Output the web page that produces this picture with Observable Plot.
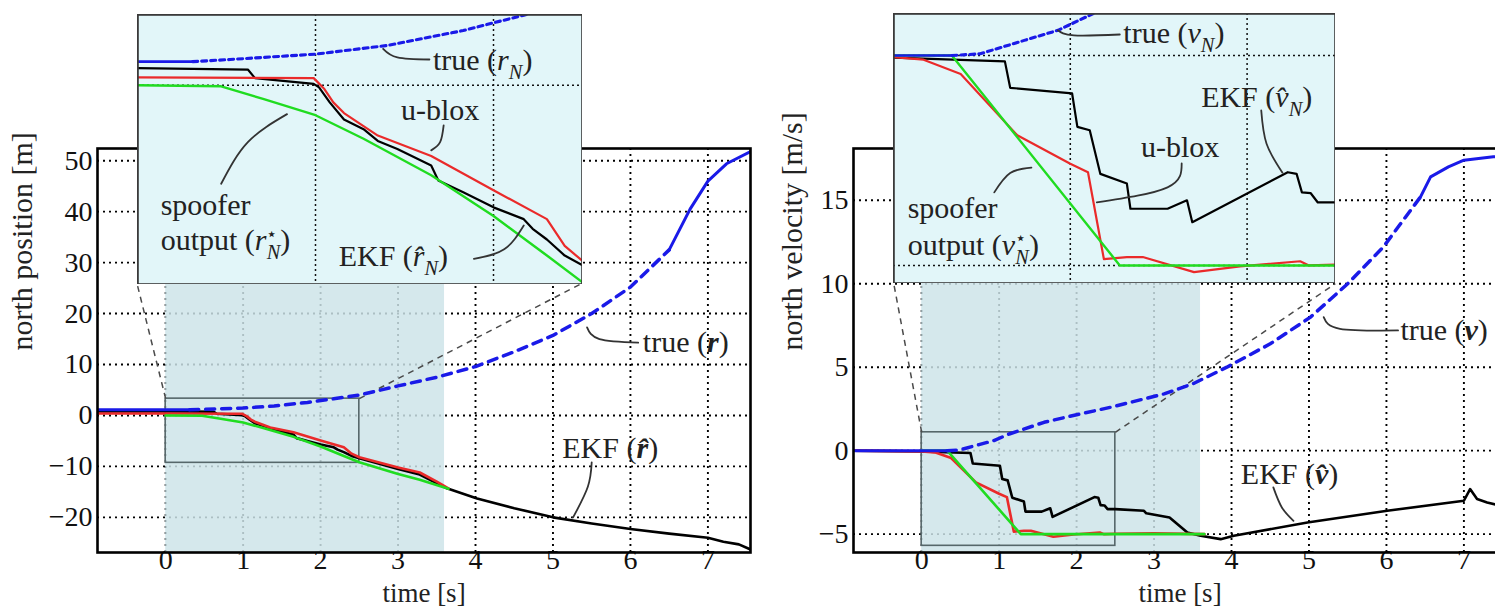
<!DOCTYPE html>
<html><head><meta charset="utf-8">
<script src="https://cdn.jsdelivr.net/npm/d3@7"></script>
<script src="https://cdn.jsdelivr.net/npm/@observablehq/plot@0.6"></script>
<style>
html,body{margin:0;padding:0;background:#fff;}
#stage{position:relative;width:1495px;height:615px;overflow:hidden;background:#fff;}
#stage svg{position:absolute;max-width:none;overflow:hidden;}
</style></head><body><div id="stage"></div>
<script>
// ---------- DATA ----------
const timeTicks = [0, 1, 2, 3, 4, 5, 6, 7];
const posTicks = [-20, -10, 0, 10, 20, 30, 40, 50];
const velTicks = [-5, 0, 5, 10, 15];
const insetTimeGrid = [1, 2];
const posInsetGrid = [0];
const velInsetGrid = [0, -5];

// north position [m] : [time s, value]
const posTrue = [[-0.88,1.1],[0,1.1],[0.31,1.1],[0.52,1.2],[1.0,1.45],[1.4,1.85],[1.83,2.55],[2.17,3.27],[2.5,4.0],[3.0,5.8],[3.5,7.5],[4.0,9.6],[4.5,12.5],[5.0,15.7],[5.5,20.0],[6.0,25.2],[6.5,32.5],[6.77,40.5],[7.0,46.0],[7.24,49.4],[7.55,51.8]];
const posUblox = [[-0.88,0.37],[0,0.37],[0.99,0.33],[1.05,-0.18],[1.1,-0.8],[1.16,-1.3],[1.35,-2.35],[1.65,-3.3],[2.0,-4.9],[2.3,-6.25],[2.4,-7.5],[2.5,-8.2],[3.0,-10.2],[3.28,-11.2],[3.5,-13.0],[3.65,-14.3]];
const posEkf = [[-0.88,0.8],[0,0.8],[0.62,0.73],[0.66,0.33],[0.99,0.06],[1.02,-0.1],[1.08,-0.8],[1.16,-1.6],[1.27,-2.05],[1.35,-2.6],[1.46,-2.98],[1.65,-3.75],[1.69,-4.45],[1.83,-5.0],[2.0,-5.7],[2.17,-6.25],[2.22,-6.7],[2.3,-7.2],[2.4,-7.95],[2.5,-8.4],[3.0,-10.5],[3.28,-11.6],[3.63,-14.3],[4.02,-16.3],[4.5,-18.2],[5.0,-20.0],[5.5,-21.2],[6.0,-22.3],[6.5,-23.2],[7.0,-24.0],[7.2,-24.8],[7.4,-25.3],[7.55,-26.3]];
const posSpoofer = [[0,0],[0.47,-0.05],[0.71,-0.65],[1.0,-1.4],[1.27,-2.5],[1.65,-4.2],[2.0,-6.1],[2.3,-7.95],[2.5,-9.2],[3.0,-11.5],[3.28,-12.6],[3.65,-14.4]];

// north velocity [m/s]
const velTrue = [[-0.88,0],[0.33,0],[0.49,0.04],[0.74,0.36],[0.93,0.6],[1.13,1.0],[1.58,1.7],[2.0,2.15],[2.44,2.6],[3.13,3.4],[3.5,4.0],[3.94,5.0],[4.5,6.4],[5.02,8.0],[5.5,10.0],[5.96,12.2],[6.44,15.2],[6.57,16.4],[6.8,17.0],[7.0,17.4],[7.38,17.6],[7.55,17.6]];
const velUblox = [[-0.88,0],[0,-0.04],[0.17,-0.1],[0.38,-0.44],[0.70,-1.9],[1.0,-2.58],[1.1,-2.78],[1.19,-4.85],[1.32,-4.8],[1.41,-4.8],[1.7,-5.16],[1.96,-5.02],[2.3,-4.9],[2.35,-5.0],[2.5,-4.98],[3.0,-4.95],[3.65,-5.0]];
const velEkf = [[-0.88,0],[0,-0.05],[0.63,-0.14],[0.66,-0.77],[1.01,-0.9],[1.04,-1.7],[1.11,-1.78],[1.17,-2.82],[1.32,-3.05],[1.34,-3.65],[1.55,-3.65],[1.66,-3.45],[1.69,-3.97],[2.23,-2.78],[2.28,-2.82],[2.31,-3.26],[2.36,-3.28],[2.4,-3.5],[2.5,-3.5],[2.87,-3.6],[2.9,-3.75],[3.2,-4.0],[3.43,-4.9],[3.6,-5.1],[3.86,-5.3],[4.03,-5.1],[4.98,-4.3],[6.01,-3.6],[7.0,-3.0],[7.08,-2.3],[7.17,-2.9],[7.3,-3.1],[7.55,-3.4]];
const velSpoofer = [[0,0],[0.33,0],[1.28,-5.0],[3.65,-5.0]];

// spoofing window (shaded) and dashed part of true trajectory
const attackWindow = [0, 3.6];
const posTrueDashed = [0.31, 6.5];
const velTrueDashed = [0.33, 6.44];
// zoom rectangles [t range, value range]
const posZoom = {t: [0, 2.5], y: [-9.3, 3.3]};
const velZoom = {t: [0, 2.5], y: [-5.7, 1.1]};
const posInsetY = [-9.3, 3.3];
const velInsetY = [-5.43, 1.0];

// annotations: [t, value, text]
const posMainLabels = [[6.16, 14.3, "true (!r)"], [5.12, -6.5, "EKF (!r\u0302)"]];
const velMainLabels = [[6.18, 7.2, "true (!v)"], [4.12, -1.4, "EKF (!v\u0302)"]];
const posInsetLabels = [[1.66, 1.17, "true (r_N)"], [1.48, -1.17, "u-blox"], [0.13, -5.6, "spoofer"], [0.13, -7.25, "output (r*_N)"], [1.13, -8.0, "EKF (r\u0302_N)"]];
const velInsetLabels = [[1.3, 0.52, "true (v_N)"], [1.74, -1.0, "EKF (v\u0302_N)"], [1.40, -2.19, "u-blox"], [0.08, -3.64, "spoofer"], [0.08, -4.52, "output (v*_N)"]];
const posMainLeaders = [[[5.44,17.3],[5.6,15.0],[6.1,14.3]], [[5.5,-9.2],[5.45,-14],[5.26,-20]]];
const velMainLeaders = [[[5.19,8.0],[5.4,7.3],[6.15,7.2]], [[4.54,-2.2],[4.65,-3.4],[4.8,-4.2]]];
const posInsetLeaders = [[[1.38,1.7],[1.46,1.3],[1.64,1.2]], [[1.72,-1.87],[1.70,-2.66],[1.65,-3.04]], [[0.47,-4.6],[0.62,-2.66],[0.84,-1.35]], [[1.89,-8.1],[2.06,-7.66],[2.17,-6.55]]];
const velInsetLeaders = [[[0.93,0.6],[1.02,0.48],[1.28,0.5]], [[2.08,-1.31],[2.11,-2.1],[2.2,-2.79]], [[1.63,-2.57],[1.55,-3.14],[1.15,-3.5]], [[0.57,-3.26],[0.66,-2.8],[0.78,-2.67]]];

// ---------- LAYOUT / STYLE ----------
const FONT = "Liberation Serif";
const FS = 30;       // annotation / axis-label text
const TICK_FS = 28;  // tick labels
const C = {truth: "#1a1ae8", ublox: "#ea2a2a", ekf: "#000", spoofer: "#20dc20", text: "#222"};
const X = d => d[0], Y = d => d[1];
const fmt = d => d < 0 ? "\u2212" + (-d) : String(d);

const panels = [
  {left: 0, yDomain: [-26.9, 52.4], yTicks: posTicks, yLabel: "north position [m]", yLabelDx: -75,
   truth: posTrue, ublox: posUblox, ekf: posEkf, spoofer: posSpoofer, dash: posTrueDashed,
   zoom: posZoom, insetBox: {t: [-0.37, 5.37], y: [25.9, 78.8]}, insetY: posInsetY, insetGrid: posInsetGrid,
   mainLabels: posMainLabels, mainLeaders: posMainLeaders, insetLabels: posInsetLabels, insetLeaders: posInsetLeaders},
  {left: 756, yDomain: [-6.1, 18.1], yTicks: velTicks, yLabel: "north velocity [m/s]", yLabelDx: -61,
   truth: velTrue, ublox: velUblox, ekf: velEkf, spoofer: velSpoofer, dash: velTrueDashed,
   zoom: velZoom, insetBox: {t: [-0.36, 5.34], y: [10.0, 26.2]}, insetY: velInsetY, insetGrid: velInsetGrid,
   mainLabels: velMainLabels, mainLeaders: velMainLeaders, insetLabels: velInsetLabels, insetLeaders: velInsetLeaders}
];

function flatLeaders(L) { return L.flatMap((pts, i) => pts.map(p => ({x: p[0], y: p[1], id: i}))); }

function seriesMarks(p, w, dashPattern) {
  const o = (stroke, sw, extra = {}) => ({x: X, y: Y, stroke, strokeWidth: sw, strokeLinejoin: "round", clip: true, ...extra});
  return [
    Plot.line(p.ekf, o(C.ekf, w.ekf)),
    Plot.line(p.ublox, o(C.ublox, w.ublox)),
    Plot.line(p.spoofer, o(C.spoofer, w.spoofer)),
    Plot.line(p.truth, o(C.truth, w.truth, {filter: d => d[0] <= p.dash[0]})),
    Plot.line(p.truth, o(C.truth, w.truth + 0.5, {filter: d => d[0] >= p.dash[0] && d[0] <= p.dash[1], strokeDasharray: dashPattern})),
    Plot.line(p.truth, o(C.truth, w.truth, {filter: d => d[0] >= p.dash[1]}))
  ];
}

// turn "name (math)" strings into text with italic / bold / sub- and superscripts
function richText(svg) {
  d3.select(svg).selectAll("text").each(function () {
    const s = this.textContent;
    const m = /^(.*\()(.+)\)$/.exec(s);
    if (!m) return;
    let pre = m[1], math = m[2], bold = false, sub = null, star = false;
    if (math[0] === "!") { bold = true; math = math.slice(1); }
    const k = math.indexOf("_");
    if (k >= 0) { sub = math.slice(k + 1); math = math.slice(0, k); }
    if (math.endsWith("*")) { star = true; math = math.slice(0, -1); }
    const fs = FS;
    const t = d3.select(this);
    t.text(null);
    t.append("tspan").text(pre);
    t.append("tspan").attr("font-style", "italic").attr("font-weight", bold ? "bold" : null).text(math);
    let shift = 0;
    if (star) { t.append("tspan").attr("font-size", fs * 0.6).attr("dy", -fs * 0.35).text("\u22c6"); shift = -fs * 0.35; }
    if (sub) {
      const ts = t.append("tspan").attr("font-size", fs * 0.68).attr("font-style", "italic").attr("dy", fs * 0.3 - shift).text(sub);
      if (star) ts.attr("dx", -fs * 0.36);
      shift = fs * 0.3;
    }
    t.append("tspan").attr("dy", shift ? -shift : null).text(")");
  });
}

const stage = document.getElementById("stage");
const gridStyle = {stroke: "#000", strokeWidth: 1.9, strokeDasharray: "2,4"};
const textStyle = {fill: C.text, fontSize: FS, fontFamily: FONT};

for (const p of panels) {
  const connectors = [
    {x1: p.zoom.t[0], y1: p.zoom.y[1], x2: p.insetBox.t[0], y2: p.insetBox.y[0]},
    {x1: p.zoom.t[1], y1: p.zoom.y[1], x2: p.insetBox.t[1], y2: p.insetBox.y[0]}
  ];
  const main = Plot.plot({
    width: 760, height: 615,
    marginLeft: 97, marginRight: 10, marginTop: 148, marginBottom: 63,
    style: {fontFamily: FONT, fontSize: TICK_FS + "px", background: "transparent", color: "#111"},
    x: {domain: [-0.88, 7.55], ticks: timeTicks, tickSize: 0, tickPadding: -3, label: null, tickFormat: fmt},
    y: {domain: p.yDomain, ticks: p.yTicks, tickSize: 0, tickPadding: 5, label: null, tickFormat: fmt},
    marks: [
      Plot.ruleX(timeTicks, gridStyle),
      Plot.ruleY(p.yTicks, gridStyle),
      Plot.rect([attackWindow], {x1: d => d[0], x2: d => d[1], fill: "#cde4e8", fillOpacity: 0.84}),
      Plot.rect([p.zoom], {x1: d => d.t[0], x2: d => d.t[1], y1: d => d.y[0], y2: d => d.y[1], fill: "none", stroke: "#56676a", strokeWidth: 1.6}),
      Plot.link(connectors, {x1: "x1", y1: "y1", x2: "x2", y2: "y2", stroke: "#4a4a4a", strokeWidth: 1.5, strokeDasharray: "6,5"}),
      ...seriesMarks(p, {ekf: 2.6, ublox: 2.6, spoofer: 2.6, truth: 3}, "9,7"),
      Plot.line(flatLeaders(p.mainLeaders), {x: "x", y: "y", z: "id", curve: "natural", stroke: "#333", strokeWidth: 1.8}),
      Plot.text(p.mainLabels, {x: X, y: Y, text: d => d[2], textAnchor: "start", ...textStyle}),
      Plot.text([p.yLabel], {text: d => d, frameAnchor: "left", rotate: -90, dx: p.yLabelDx, ...textStyle}),
      Plot.text(["time [s]"], {text: d => d, frameAnchor: "bottom", dy: 49, ...textStyle, fontSize: 27}),
      Plot.frame({stroke: "#000", strokeWidth: 2.6})
    ]
  });
  main.style.left = p.left + "px";
  main.style.top = "0px";
  stage.appendChild(main);
  richText(main);

  // inset placement in main-panel data coordinates
  const sx = main.scale("x"), sy = main.scale("y");
  const ix1 = p.left + sx.apply(p.insetBox.t[0]), ix2 = p.left + sx.apply(p.insetBox.t[1]);
  const iy1 = sy.apply(p.insetBox.y[1]), iy2 = sy.apply(p.insetBox.y[0]);
  const W = Math.round(ix2 - ix1), H = Math.round(iy2 - iy1);
  const inset = Plot.plot({
    width: W, height: H, margin: 0,
    style: {fontFamily: FONT, fontSize: FS + "px", background: "#e2f6f9"},
    x: {domain: [0, 2.5], axis: null},
    y: {domain: p.insetY, axis: null},
    marks: [
      Plot.frame({fill: "#e2f6f9"}),
      Plot.ruleX(insetTimeGrid, {stroke: "#111", strokeWidth: 1.5, strokeDasharray: "2,3"}),
      Plot.ruleY(p.insetGrid, {stroke: "#111", strokeWidth: 1.5, strokeDasharray: "2,3"}),
      ...seriesMarks(p, {ekf: 2.2, ublox: 2.2, spoofer: 2.4, truth: 2.6}, "5,4"),
      Plot.line(flatLeaders(p.insetLeaders), {x: "x", y: "y", z: "id", curve: "natural", stroke: "#333", strokeWidth: 1.8}),
      Plot.text(p.insetLabels, {x: X, y: Y, text: d => d[2], textAnchor: "start", ...textStyle}),
      Plot.frame({stroke: "#3a3a3a", strokeWidth: 2.6})
    ]
  });
  inset.style.left = Math.round(ix1) + "px";
  inset.style.top = Math.round(iy1) + "px";
  stage.appendChild(inset);
  richText(inset);
}
</script>
</body></html>
